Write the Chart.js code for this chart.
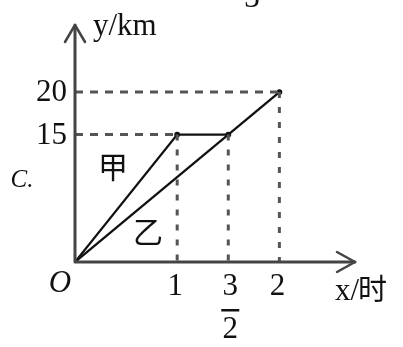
<!DOCTYPE html>
<html>
<head>
<meta charset="utf-8">
<script src="https://cdn.jsdelivr.net/npm/chart.js@4"></script>
<style>
  html, body { margin: 0; padding: 0; background: #fff; }
  canvas { display: block; }
</style>
</head>
<body>
<canvas id="chart" width="403" height="347"></canvas>
<script>
// 甲: rides to 15 km in 1 h, rests until 3/2 h
const jiaX = [0, 1, 1.5];
const jiaY = [0, 15, 15];
// 乙: steady ride, 20 km in 2 h
const yiX = [0, 2];
const yiY = [0, 20];

// tick marks on the axes
const xTicks = [1, 1.5, 2];
const xTickLabels = ['1', '3/2', '2'];
const yTicks = [15, 20];
const yTickLabels = ['15', '20'];

// dashed guide lines: horizontal ones run from the y axis to (x, y)
const hGuideX = [1, 2];
const hGuideY = [15, 20];
// vertical ones drop from (x, y) to the x axis
const vGuideX = [1, 1.5, 2];
const vGuideY = [15, 15, 20];

const xMax = 2.74;
const yMax = 27.9;

const serif = "'Liberation Serif', 'Times New Roman', serif";
const cjk = "'Noto Sans CJK SC', sans-serif";
const lineColor = '#111';
const guideColor = '#555';
const axisColor = '#444';

function toPoints(xs, ys) {
  return xs.map((x, i) => ({ x: x, y: ys[i] }));
}

const datasets = [];

hGuideX.forEach((x, i) => {
  datasets.push({
    data: [{ x: 0, y: hGuideY[i] }, { x: x, y: hGuideY[i] }],
    borderColor: guideColor,
    borderWidth: 3,
    borderDash: [8, 7],
    pointRadius: 0
  });
});

vGuideX.forEach((x, i) => {
  datasets.push({
    data: [{ x: x, y: vGuideY[i] }, { x: x, y: 0 }],
    borderColor: guideColor,
    borderWidth: 3,
    borderDash: [6, 9],
    pointRadius: 0
  });
});

datasets.push({
  label: '甲',
  data: toPoints(jiaX, jiaY),
  borderColor: lineColor,
  backgroundColor: lineColor,
  borderWidth: 2.3,
  pointRadius: [0, 1.8, 1.8],
  tension: 0
});
datasets.push({
  label: '乙',
  data: toPoints(yiX, yiY),
  borderColor: lineColor,
  backgroundColor: lineColor,
  borderWidth: 2.3,
  pointRadius: [0, 1.8],
  tension: 0
});

// axes with open arrowheads, tick labels and the other texts
const axesPlugin = {
  id: 'axesPlugin',
  afterDraw(chart) {
    const ctx = chart.ctx;
    const xs = chart.scales.x;
    const ys = chart.scales.y;
    const ox = xs.getPixelForValue(0);
    const oy = ys.getPixelForValue(0);
    const top = ys.getPixelForValue(yMax);
    const right = xs.getPixelForValue(xMax);

    ctx.save();
    ctx.strokeStyle = axisColor;
    ctx.lineWidth = 3;
    ctx.lineCap = 'round';
    ctx.lineJoin = 'round';
    ctx.beginPath();
    ctx.moveTo(ox, oy);
    ctx.lineTo(ox, top);
    ctx.moveTo(ox, oy);
    ctx.lineTo(right, oy);
    ctx.stroke();

    ctx.lineWidth = 2.5;
    ctx.beginPath();
    ctx.moveTo(ox - 10, top + 17);
    ctx.lineTo(ox, top);
    ctx.lineTo(ox + 10, top + 17);
    ctx.moveTo(right - 18, oy - 10);
    ctx.lineTo(right, oy);
    ctx.lineTo(right - 18, oy + 10);
    ctx.stroke();

    ctx.fillStyle = '#111';
    ctx.textBaseline = 'middle';

    // y tick labels
    ctx.font = '31px ' + serif;
    ctx.textAlign = 'right';
    yTicks.forEach((v, i) => {
      ctx.fillText(yTickLabels[i], ox - 8, ys.getPixelForValue(v) + 1);
    });

    // x tick labels, fractions stacked
    ctx.textAlign = 'center';
    xTicks.forEach((v, i) => {
      const px = xs.getPixelForValue(v);
      const parts = xTickLabels[i].split('/');
      if (parts.length === 2) {
        ctx.fillText(parts[0], px + 2, oy + 25);
        ctx.fillRect(px - 7, oy + 47, 18, 2.5);
        ctx.fillText(parts[1], px + 2, oy + 68);
      } else {
        ctx.fillText(parts[0], px - 2, oy + 25);
      }
    });

    ctx.font = 'italic 31px ' + serif;
    ctx.fillText('O', ox - 15, oy + 22);

    // axis titles
    ctx.textAlign = 'left';
    ctx.textBaseline = 'alphabetic';
    ctx.font = '31px ' + serif;
    ctx.fillText('y/km', ox + 18, top + 10);
    const xl = right - 20;
    ctx.fillText('x/', xl, oy + 38);
    const w = ctx.measureText('x/').width;
    ctx.font = '29px ' + cjk;
    ctx.fillText('时', xl + w - 1, oy + 38);

    // series names
    ctx.textAlign = 'center';
    ctx.textBaseline = 'middle';
    ctx.font = '30px ' + cjk;
    ctx.fillText('甲', ox + 38, ys.getPixelForValue(11.2));
    ctx.fillText('乙', ox + 73, ys.getPixelForValue(3.6));

    // neighbouring option letter and the tail of the line above
    ctx.font = 'italic 25px ' + serif;
    ctx.fillText('C.', 22, 180);
    ctx.textBaseline = 'alphabetic';
    ctx.font = '31px ' + serif;
    ctx.fillText('3', 252, 7);
    ctx.restore();
  }
};

new Chart(document.getElementById('chart'), {
  type: 'line',
  data: { datasets: datasets },
  options: {
    responsive: false,
    animation: false,
    devicePixelRatio: 1,
    layout: { padding: { left: 75, right: 403 - 355, top: 25, bottom: 347 - 262 } },
    plugins: {
      legend: { display: false },
      tooltip: { enabled: false }
    },
    scales: {
      x: { type: 'linear', min: 0, max: xMax, display: false },
      y: { type: 'linear', min: 0, max: yMax, display: false }
    }
  },
  plugins: [axesPlugin]
});
</script>
</body>
</html>
